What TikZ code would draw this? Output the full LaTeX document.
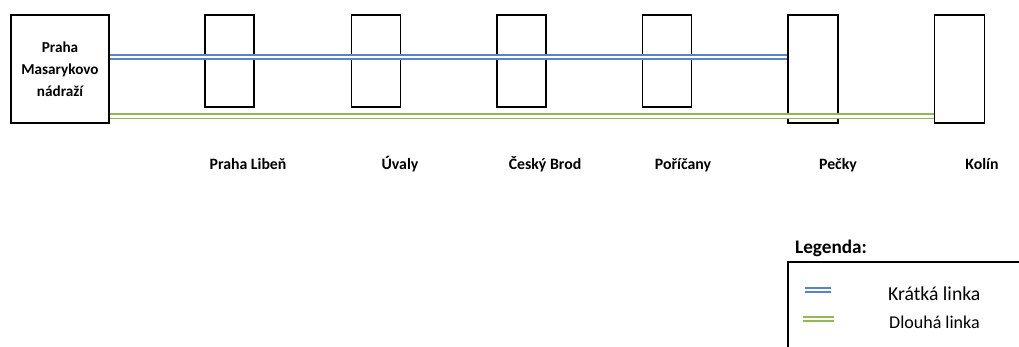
\documentclass[tikz,border=0pt]{standalone}
\usepackage{fontspec}
\setmainfont{Carlito}
\tikzset{
  station/.style={draw=black, line width=1.8pt, rectangle, inner sep=0pt,
    minimum width=49pt, minimum height=92pt},
  terminal/.style={station, minimum width=50pt, minimum height=108pt},
  namelabel/.style={font=\fontsize{15.8}{18}\selectfont\bfseries, inner sep=0pt, anchor=base},
  shortline/.style={draw={rgb,255:red,84;green,133;blue,204}, line width=1.7pt,
    double=white, double distance=2.6pt},
  longline/.style={draw={rgb,255:red,146;green,184;blue,80}, line width=1.7pt,
    double=white, double distance=2.6pt},
  legendtext/.style={font=\fontsize{19.7}{22}\selectfont, anchor=base west, inner sep=0pt}
}
\begin{document}
\begin{tikzpicture}[x=1pt, y=-1pt]
\useasboundingbox (0,0) rectangle (1019,347);
% stations
\node[station, minimum width=98pt, minimum height=108pt, align=center,
  font=\fontsize{15.2}{22}\selectfont\bfseries] (masaryk) at (60,69)
  {Praha\\Masarykovo\\nádraží};
\node[station] (liben) at (229.5,61) {};
\node[station] (uvaly) at (376,61) {};
\node[station] (brod) at (521.5,61) {};
\node[station] (poricany) at (667,61) {};
\node[terminal] (pecky) at (813,69) {};
\node[terminal] (kolin) at (959.5,69) {};
% station names
\node[namelabel] (liben-l) at (248,170) {Praha Libeň};
\node[namelabel] (uvaly-l) at (400,170) {Úvaly};
\node[namelabel] (brod-l) at (545,170) {Český Brod};
\node[namelabel] (poricany-l) at (683,170) {Poříčany};
\node[namelabel] (pecky-l) at (838,170) {Pečky};
\node[namelabel] (kolin-l) at (982,170) {Kolín};
% lines
\draw[shortline] ([yshift=12pt]masaryk.east) -- ([yshift=12pt]pecky.west);
\draw[longline] ([yshift=-47.5pt]masaryk.east) -- ([yshift=-47.5pt]kolin.west);
% legend
\node[font=\fontsize{19.2}{22}\selectfont\bfseries, anchor=base west, inner sep=0pt]
  (legtitle) at (795,254) {Legenda:};
\draw[line width=1.8pt] (1025,262) -- (788,262) -- (788,352);
\coordinate (bs) at (805,290);
\coordinate (be) at (831,290);
\coordinate (gs) at (803,319);
\coordinate (ge) at (834,319);
\draw[shortline] (bs) -- (be);
\draw[longline] (gs) -- (ge);
\node[legendtext] (legshort) at (888,300) {Krátká linka};
\node[legendtext, font=\fontsize{18}{22}\selectfont] (leglong) at (889,328) {Dlouhá linka};
\end{tikzpicture}
\end{document}
